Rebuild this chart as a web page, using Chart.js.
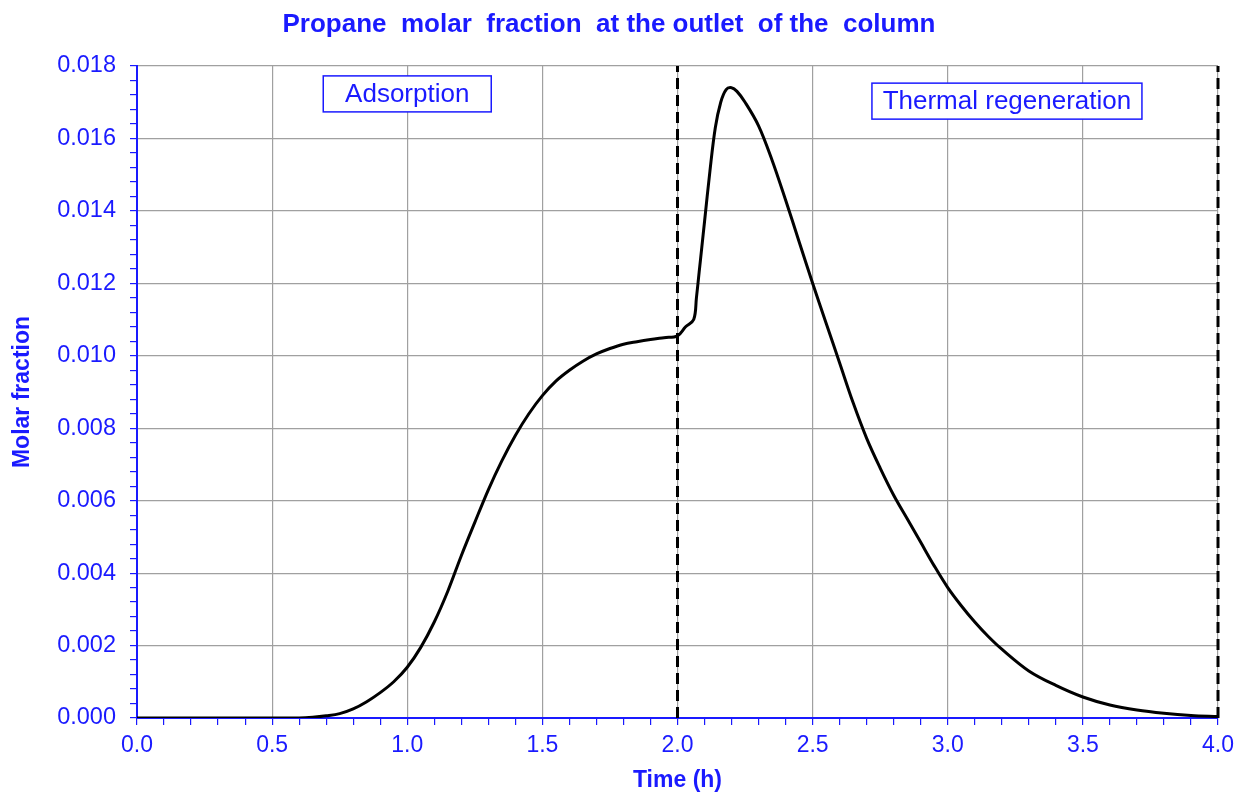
<!DOCTYPE html>
<html>
<head>
<meta charset="utf-8">
<script src="https://cdn.jsdelivr.net/npm/chart.js@4.4.1/dist/chart.umd.min.js"></script>
<style>
  html, body { margin: 0; padding: 0; background: #fff; }
  #wrap { width: 1245px; height: 794px; }
</style>
</head>
<body>
<div id="wrap"><canvas id="propane-chart" width="1245" height="794"></canvas></div>
<script>
/* global Chart */
const timeH = [0, 0.1, 0.2, 0.3, 0.4, 0.5, 0.6, 0.65, 0.7, 0.75, 0.8, 0.85, 0.9, 0.95,
    1.0, 1.05, 1.1, 1.15, 1.2, 1.25, 1.3, 1.35, 1.4, 1.45, 1.5, 1.55, 1.6, 1.65, 1.7,
    1.75, 1.8, 1.85, 1.9, 1.95, 2.0, 2.03, 2.06, 2.07, 2.08, 2.09, 2.1, 2.12, 2.14,
    2.16, 2.18, 2.2, 2.22, 2.25, 2.3, 2.35, 2.4, 2.45, 2.5, 2.55, 2.6, 2.65, 2.7,
    2.75, 2.8, 2.85, 2.9, 2.95, 3.0, 3.05, 3.1, 3.15, 3.2, 3.3, 3.4, 3.5, 3.6, 3.7, 3.8, 3.9, 4.0];
const molarFraction = [0, 0, 0, 0, 0, 0, 0, 0.00002, 0.00006, 0.00012, 0.00025, 0.00045,
    0.0007, 0.001, 0.0014, 0.00195, 0.00265, 0.0035, 0.00448, 0.0054, 0.0063, 0.0071, 0.0078,
    0.0084, 0.0089, 0.0093, 0.0096, 0.00985, 0.01005, 0.0102, 0.01032, 0.01039, 0.01045,
    0.0105, 0.01055, 0.0108, 0.011, 0.0116, 0.0123, 0.013, 0.0137, 0.0151, 0.0163,
    0.017, 0.01735, 0.0174, 0.0173, 0.0170, 0.01635, 0.0154, 0.0143, 0.01315, 0.012,
    0.0109, 0.0098, 0.0087, 0.00772, 0.0069, 0.00615, 0.0055, 0.00485, 0.0042, 0.0036,
    0.0031, 0.00265, 0.00225, 0.0019, 0.0013, 0.0009, 0.00058, 0.00036, 0.00022, 0.00013,
    0.00007, 0.00004];
const phaseEnds = [2.0, 4.0];
const phaseLabels = ['Adsorption', 'Thermal regeneration'];
const phaseLabelPos = [[1.0, 0.01723], [3.219, 0.01703]];
const phaseBoxWidths = [168, 270];

const blue = '#1a1aff';
const fontFamily = '"Liberation Sans", Arial, sans-serif';
const isMajor = (v, step) => Math.abs(v / step - Math.round(v / step)) < 1e-6;

const phaseBoxes = {
    id: 'phaseBoxes',
    afterDatasetsDraw(chart) {
        const { ctx, scales: { x, y } } = chart;
        ctx.save();
        ctx.font = '26px ' + fontFamily;
        ctx.textAlign = 'center';
        ctx.textBaseline = 'middle';
        phaseLabels.forEach((txt, i) => {
            const cx = x.getPixelForValue(phaseLabelPos[i][0]);
            const cy = y.getPixelForValue(phaseLabelPos[i][1]);
            const w = phaseBoxWidths[i];
            const h = 36;
            ctx.fillStyle = '#fff';
            ctx.fillRect(cx - w / 2, cy - h / 2, w, h);
            ctx.strokeStyle = blue;
            ctx.lineWidth = 1.5;
            ctx.strokeRect(cx - w / 2, cy - h / 2, w, h);
            ctx.fillStyle = blue;
            ctx.fillText(txt, cx, cy + 1);
        });
        ctx.restore();
    }
};

const lineData = timeH.map((t, i) => ({ x: t, y: molarFraction[i] }));
const dashedSets = phaseEnds.map(t => ({
    data: [{ x: t, y: 0 }, { x: t, y: 0.018 }],
    borderColor: '#000',
    borderWidth: 3,
    borderDash: [11, 6],
    pointRadius: 0,
    tension: 0,
    clip: false
}));

new Chart(document.getElementById('propane-chart'), {
    type: 'line',
    data: {
        datasets: [{
            data: lineData,
            borderColor: '#000',
            borderWidth: 3,
            pointRadius: 0,
            tension: 0.35
        }, ...dashedSets]
    },
    options: {
        responsive: false,
        animation: false,
        layout: { padding: { left: 0, right: 27, top: 0, bottom: 0 } },
        plugins: {
            legend: { display: false },
            tooltip: { enabled: false },
            title: {
                display: true,
                text: 'Propane  molar  fraction  at the outlet  of the  column',
                color: blue,
                font: { family: fontFamily, size: 26, weight: 'bold' },
                padding: { top: 9, bottom: 25.8 }
            }
        },
        scales: {
            x: {
                type: 'linear',
                min: 0,
                max: 4,
                afterFit: s => { s.height = 76; },
                border: { color: blue, width: 2 },
                grid: {
                    color: c => (isMajor(c.tick.value, 0.5) ? '#a0a0a0' : 'rgba(0,0,0,0)'),
                    tickColor: blue,
                    tickLength: 7,
                    lineWidth: 1.2
                },
                ticks: {
                    stepSize: 0.1,
                    autoSkip: false,
                    maxRotation: 0,
                    maxTicksLimit: 100,
                    padding: 7,
                    color: blue,
                    font: { family: fontFamily, size: 23 },
                    callback: v => (isMajor(v, 0.5) ? v.toFixed(1) : '')
                },
                title: {
                    display: true,
                    text: 'Time (h)',
                    color: blue,
                    font: { family: fontFamily, size: 23, weight: 'bold' },
                    padding: { top: 0, bottom: 0 }
                }
            },
            y: {
                min: 0,
                max: 0.018,
                afterFit: s => { s.width = 137; },
                border: { color: blue, width: 2 },
                grid: {
                    color: c => (isMajor(c.tick.value, 0.002) ? '#a0a0a0' : 'rgba(0,0,0,0)'),
                    tickColor: blue,
                    tickLength: 7,
                    lineWidth: 1.2
                },
                ticks: {
                    stepSize: 0.0004,
                    autoSkip: false,
                    maxTicksLimit: 100,
                    padding: 14,
                    color: blue,
                    font: { family: fontFamily, size: 23.5 },
                    callback: v => (isMajor(v, 0.002) ? v.toFixed(3) : '')
                },
                title: {
                    display: true,
                    text: 'Molar fraction',
                    color: blue,
                    font: { family: fontFamily, size: 23, weight: 'bold' },
                    padding: { top: 9, bottom: 0 }
                }
            }
        }
    },
    plugins: [phaseBoxes]
});
</script>
</body>
</html>
